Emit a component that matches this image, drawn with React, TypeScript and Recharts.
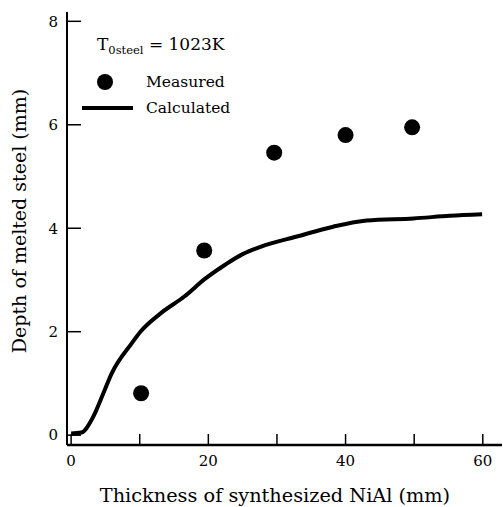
import { ComposedChart, Line, Scatter, XAxis, YAxis, Customized } from "recharts"

const measuredX = [10.2, 19.4, 29.6, 40.0, 49.7]
const measuredY = [0.81, 3.57, 5.46, 5.8, 5.95]

const calcX = [0, 1.5, 3.2, 4.7, 5.9, 8.8, 10.1, 13.0, 16.5, 19.5, 22.5, 25.0, 27.6, 32.9, 38.2, 43.1, 49.9, 55.2, 59.9]
const calcY = [0.03, 0.05, 0.35, 0.81, 1.19, 1.77, 2.0, 2.35, 2.68, 3.02, 3.3, 3.5, 3.64, 3.84, 4.03, 4.15, 4.19, 4.24, 4.27]

const xTicks = [0, 10, 20, 30, 40, 50, 60]
const yTicks = [0, 2, 4, 6, 8]

const measured = measuredX.map((x, i) => ({ x, y: measuredY[i] }))
const calculated = calcX.map((x, i) => ({ x, y: calcY[i] }))

const FONT = "DejaVu Serif"

function Dot(props: any) {
  return <circle cx={props.cx} cy={props.cy} r={8} fill="#000" />
}

function Overlay() {
  return (
    <g fill="#000" fontFamily={FONT}>
      <text x={97} y={50} fontSize={17}>
        T<tspan fontSize={11.5} dy={4}>0steel</tspan>
        <tspan dy={-4}> = 1023K</tspan>
      </text>
      <circle cx={105} cy={82} r={8} fill="#000" />
      <text x={146} y={87} fontSize={15.5}>Measured</text>
      <line x1={82} x2={133} y1={108} y2={108} stroke="#000" strokeWidth={4} />
      <text x={146} y={113} fontSize={15.5}>Calculated</text>
      <text x={275} y={502} fontSize={19.3} textAnchor="middle">
        Thickness of synthesized NiAl (mm)
      </text>
      <text x={0} y={0} fontSize={19} textAnchor="middle" transform="translate(26, 221) rotate(-90)">
        Depth of melted steel (mm)
      </text>
    </g>
  )
}

export default function App() {
  return (
    <div style={{ position: "absolute", left: 0, top: 0, width: 503, height: 507, background: "#fff" }}>
      <ComposedChart width={503} height={507} margin={{ top: 12, right: 1, bottom: 0, left: 0 }}>
        <XAxis
          type="number"
          dataKey="x"
          domain={[-0.6, 62.8]}
          ticks={xTicks}
          height={62}
          tickSize={-11}
          tickMargin={21}
          tickFormatter={(v: number) => (v % 20 === 0 ? String(v) : "")}
          axisLine={{ stroke: "#000", strokeWidth: 2.5 }}
          tickLine={{ stroke: "#000", strokeWidth: 1.5 }}
          tick={{ fill: "#000", fontSize: 15, fontFamily: FONT }}
          allowDataOverflow
        />
        <XAxis
          xAxisId="top"
          orientation="top"
          type="number"
          domain={[0, 1]}
          height={0}
          tick={false}
          tickLine={false}
          axisLine={{ stroke: "#000", strokeWidth: 2 }}
        />
        <YAxis
          type="number"
          dataKey="y"
          domain={[-0.19, 8.18]}
          ticks={yTicks}
          width={67}
          tickSize={-14}
          tickMargin={23}
          axisLine={{ stroke: "#000", strokeWidth: 2 }}
          tickLine={{ stroke: "#000", strokeWidth: 1.5 }}
          tick={{ fill: "#000", fontSize: 15, fontFamily: FONT }}
          allowDataOverflow
        />
        <YAxis
          yAxisId="right"
          orientation="right"
          type="number"
          domain={[0, 1]}
          width={0}
          tick={false}
          tickLine={false}
          axisLine={{ stroke: "#000", strokeWidth: 2 }}
        />
        <Line
          data={calculated}
          dataKey="y"
          type="monotone"
          stroke="#000"
          strokeWidth={4}
          dot={false}
          isAnimationActive={false}
        />
        <Scatter data={measured} dataKey="y" fill="#000" shape={Dot} isAnimationActive={false} />
        <Customized component={Overlay} />
      </ComposedChart>
    </div>
  )
}
